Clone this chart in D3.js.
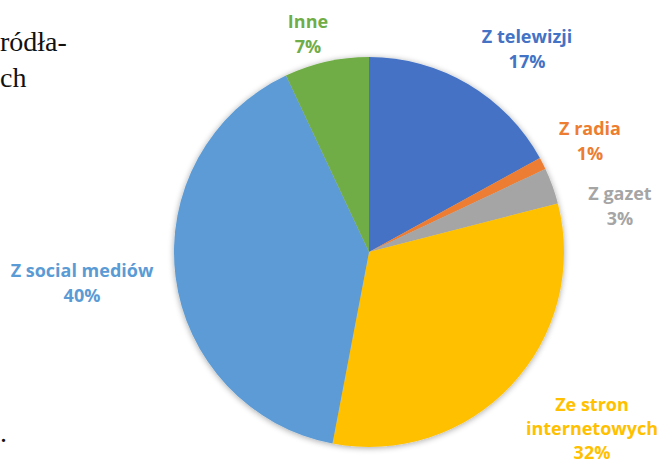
<!DOCTYPE html>
<html><head><meta charset="utf-8">
<script src="https://cdn.jsdelivr.net/npm/d3@7"></script>
<style>html,body{margin:0;padding:0;background:#fff;}svg{display:block;}</style>
</head><body>
<script>
const categories = ["Z telewizji","Z radia","Z gazet","Ze stron internetowych","Z social mediów","Inne"];
const values = [17, 1, 3, 32, 40, 7];
const colors = ["#4472C4","#ED7D31","#A5A5A5","#FFC000","#5B9BD5","#70AD47"];
const labelLines = [["Z telewizji","17%"],["Z radia","1%"],["Z gazet","3%"],["Ze stron","internetowych","32%"],["Z social mediów","40%"],["Inne","7%"]];
const labelPos = [[527,43],[590,135],[620,200],[592,411],[82,277],[308,28]];

const W=663,H=465;
const svg=d3.select("body").append("svg").attr("width",W).attr("height",H);
const defs=svg.append("defs");
const f=defs.append("filter").attr("id","sh").attr("x","-20%").attr("y","-20%").attr("width","140%").attr("height","140%");
f.append("feGaussianBlur").attr("in","SourceAlpha").attr("stdDeviation",3);
f.append("feOffset").attr("dx",0).attr("dy",1).attr("result","b");
f.append("feComponentTransfer").append("feFuncA").attr("type","linear").attr("slope",0.35);
const m=f.append("feMerge");m.append("feMergeNode");m.append("feMergeNode").attr("in","SourceGraphic");

// cropped document text fragments
const serif="'Liberation Serif','DejaVu Serif',serif";
const doc=svg.append("g").attr("font-family",serif).attr("font-size",28).attr("fill","#111");
doc.append("text").attr("x",0).attr("y",51).text("ródła-");
doc.append("text").attr("x",0).attr("y",87).text("ch");
doc.append("text").attr("x",0).attr("y",442).text(".");

const cx=369,cy=252,r=195;
const pie=d3.pie().sort(null).value(d=>d)(values);
const arc=d3.arc().innerRadius(0).outerRadius(r);
const g=svg.append("g").attr("transform",`translate(${cx},${cy})`).attr("filter","url(#sh)");
g.selectAll("path").data(pie).join("path").attr("d",arc).attr("fill",(d,i)=>colors[i]);

const lab=svg.append("g").attr("font-family","'Open Sans',sans-serif").attr("font-weight","bold").attr("font-size",18).attr("text-anchor","middle");
labelLines.forEach((lines,i)=>{
  const t=lab.append("text").attr("fill",colors[i]).attr("x",labelPos[i][0]).attr("y",labelPos[i][1]);
  lines.forEach((s,j)=>t.append("tspan").attr("x",labelPos[i][0]).attr("dy",j?(lines.length>2?24:25):0).text(s));
});
</script>
</body></html>
